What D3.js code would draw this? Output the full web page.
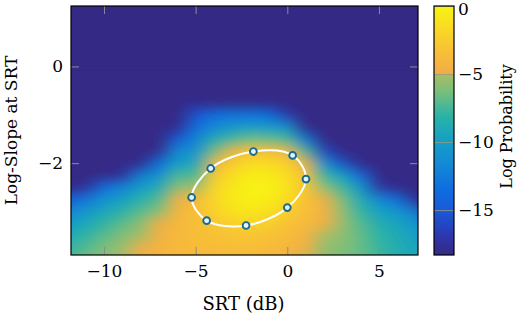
<!DOCTYPE html>
<html>
<head>
<meta charset="utf-8">
<title>Log Probability</title>
<style>
  body { margin: 0; background: #fff; }
  svg text { font-family: "DejaVu Serif", serif; fill: #000; }
</style>
</head>
<body>
<svg id="chart" width="520" height="316"></svg>
<script src="https://cdnjs.cloudflare.com/ajax/libs/d3/7.8.5/d3.min.js"></script>
<script>
// grid columns (SRT, dB) and rows (log-slope), rows listed top to bottom
const srt = [-12, -11, -10, -9, -8, -7, -6, -5, -4, -3, -2, -1, 0, 1, 2, 3, 4, 5, 6, 7, 8];
const slope = [-0.25, -0.5, -0.75, -1.0, -1.25, -1.5, -1.75, -2.0, -2.25, -2.5, -2.75, -3.0, -3.25, -3.5, -3.75, -4.0];
const F = -19; // below the colour floor
const logProb = [
  [F, F, F, F, F, F, F, F, F, F, F, F, F, F, F, F, F, F, F, F, F],
  [F, F, F, F, F, F, F, F, F, F, F, F, F, F, F, F, F, F, F, F, F],
  [F, F, F, F, F, F, F, -18, F, F, F, F, F, F, F, F, F, F, F, F, F],
  [F, F, F, F, F, F, F, -15.5, -13.5, -13, -13, -13.5, -17, F, F, F, F, F, F, F, F],
  [F, F, F, F, F, F, -18, -13.5, -11.5, -10.5, -10, -10.2, -11, F, F, F, F, F, F, F, F],
  [F, F, F, F, F, F, -15, -12, -9, -7.5, -6.5, -6.8, -7.5, -13, F, F, F, F, F, F, F],
  [F, F, F, F, F, -18, -11.5, -10.8, -6.5, -4.6, -3.3, -3.6, -4.4, -7.5, -16, F, F, F, F, F, F],
  [F, F, F, F, -18, -13.5, -10, -9.3, -4.4, -2.6, -1.4, -1.5, -2.3, -4.9, -11, -15.5, F, F, F, F, F],
  [F, F, F, -17.5, -12.5, -10.8, -7.4, -7.4, -2.9, -1.4, -0.5, -0.6, -1.4, -3.5, -7.8, -9.8, -14, F, F, F, F],
  [F, -17.5, -13.5, -12, -10, -9.0, -5.7, -5.2, -2.0, -0.8, 0, -0.2, -1.1, -3.1, -5.6, -7.6, -10.7, -17, F, F, F],
  [-15, -12.8, -11, -9.8, -8.3, -7.2, -4.7, -3.9, -1.8, -0.7, -0.2, -0.4, -1.5, -3.2, -4.7, -6.3, -9.0, -11.5, -13.5, -18, F],
  [-11.8, -10.6, -9.3, -8.2, -7.0, -5.8, -4.3, -3.4, -2.2, -1.1, -0.8, -1.2, -2.4, -3.5, -4.5, -5.6, -7.9, -9.6, -10.6, -12.5, -18],
  [-10.2, -9.2, -8.0, -6.9, -5.8, -4.9, -4.0, -3.4, -3.0, -2.2, -2.0, -2.4, -3.2, -3.9, -4.7, -5.5, -7.1, -8.6, -9.5, -10.6, -12.5],
  [-9.0, -8.0, -7.0, -6.0, -5.2, -4.5, -3.9, -3.5, -3.3, -3.1, -3.0, -3.2, -3.7, -4.3, -5.1, -5.7, -6.8, -8.0, -9.0, -9.8, -10.7],
  [-8.0, -7.1, -6.2, -5.4, -4.9, -4.3, -3.9, -3.7, -3.6, -3.5, -3.5, -3.7, -4.1, -4.7, -5.5, -6.0, -6.7, -7.8, -8.7, -9.4, -10.1],
  [-7.4, -6.6, -5.8, -5.1, -4.7, -4.2, -4.0, -3.9, -3.8, -3.7, -3.8, -4.0, -4.4, -5.0, -5.9, -6.2, -6.8, -7.6, -8.6, -9.2, -9.8]
];

// samples on the white contour
const markerSrt = [-1.85, 0.29, 1.02, 0.0, -2.25, -4.40, -5.22, -4.18];
const markerSlope = [-1.76, -1.84, -2.33, -2.92, -3.29, -3.19, -2.71, -2.11];

const xTicks = [-10, -5, 0, 5];
const yTicks = [-2, 0];
const cTicks = [0, -5, -10, -15];

// colormap stops
const cStops = [-18.3, -17.5, -16.5, -15, -13.5, -11.8, -10, -8.1, -6.3, -5.05, -4.95, -3.7, -1.9, 0];
const cColors = ["#342a86", "#32309a", "#283eb8", "#1a5ad8", "#0f6de0", "#1486d6", "#149ec8", "#2ab3a6",
                 "#78be7c", "#a8bd66", "#efad48", "#f7bb3a", "#f9d528", "#f8f412"];

const svg = d3.select("#chart");
const margin = { left: 71, top: 6, right: 102, bottom: 61 };
const W = 520, H = 316;
const x0 = margin.left, x1 = W - margin.right, y0 = margin.top, y1 = H - margin.bottom;

const xScale = d3.scaleLinear().domain([-11.8, 7.13]).range([x0, x1]);
const yScale = d3.scaleLinear().domain([-3.9, 1.25]).range([y1, y0]);
const color = d3.scaleLinear().domain(cStops).range(cColors).clamp(true);
const intFmt = d3.format("d");

const defs = svg.append("defs");
defs.append("clipPath").attr("id", "plotClip")
  .append("rect").attr("x", x0).attr("y", y0).attr("width", x1 - x0).attr("height", y1 - y0);
defs.append("filter").attr("id", "soften")
  .attr("filterUnits", "userSpaceOnUse")
  .attr("x", 0).attr("y", 0).attr("width", W).attr("height", H)
  .append("feGaussianBlur").attr("stdDeviation", "6.5 4.5").attr("edgeMode", "duplicate");

const plot = svg.append("g").attr("clip-path", "url(#plotClip)");
// plot background = lowest colour
plot.append("rect")
  .attr("x", x0).attr("y", y0).attr("width", x1 - x0).attr("height", y1 - y0)
  .attr("fill", color(-18.3));

// heatmap: one pixel per grid cell, smoothed when scaled up
const small = document.createElement("canvas");
small.width = srt.length; small.height = slope.length;
const sctx = small.getContext("2d");
const imgData = sctx.createImageData(srt.length, slope.length);
logProb.forEach((row, j) => {
  row.forEach((v, i) => {
    const c = d3.rgb(color(v));
    const k = (j * srt.length + i) * 4;
    imgData.data[k] = c.r; imgData.data[k + 1] = c.g; imgData.data[k + 2] = c.b; imgData.data[k + 3] = 255;
  });
});
sctx.putImageData(imgData, 0, 0);

const dx = srt[1] - srt[0], dy = slope[0] - slope[1];
const ix0 = xScale(srt[0] - dx / 2), ix1 = xScale(srt[srt.length - 1] + dx / 2);
const iy0 = yScale(slope[0] + dy / 2), iy1 = yScale(slope[slope.length - 1] - dy / 2);
const big = document.createElement("canvas");
big.width = Math.round(ix1 - ix0); big.height = Math.round(iy1 - iy0);
const bctx = big.getContext("2d");
bctx.imageSmoothingEnabled = true;
bctx.imageSmoothingQuality = "medium";
bctx.drawImage(small, 0, 0, big.width, big.height);
plot.append("g").attr("filter", "url(#soften)")
  .append("image")
  .attr("x", ix0).attr("y", iy0)
  .attr("width", ix1 - ix0).attr("height", iy1 - iy0)
  .attr("preserveAspectRatio", "none")
  .attr("href", big.toDataURL());

// contour through the samples
const pts = markerSrt.map((s, i) => [s, markerSlope[i]]);
plot.append("path")
  .datum(pts)
  .attr("d", d3.line().x(d => xScale(d[0])).y(d => yScale(d[1])).curve(d3.curveCatmullRomClosed.alpha(0.5)))
  .attr("fill", "none").attr("stroke", "#fff").attr("stroke-width", 2);
plot.selectAll("circle.m")
  .data(pts).enter().append("circle")
  .attr("class", "m")
  .attr("cx", d => xScale(d[0])).attr("cy", d => yScale(d[1]))
  .attr("r", 3.4)
  .attr("fill", "#e4f5fb").attr("stroke", "#1b6a8e").attr("stroke-width", 1.9);

// axes with inward ticks
const tickColor = "#8c8c8c";
function styleAxis(g, fontSize) {
  g.select(".domain").remove();
  g.selectAll(".tick line").attr("stroke", tickColor).attr("stroke-width", 1);
  g.selectAll(".tick text").attr("font-family", "DejaVu Serif").attr("font-size", fontSize).attr("fill", "#000");
}
svg.append("g").attr("transform", `translate(0,${y1})`)
  .call(d3.axisBottom(xScale).tickValues(xTicks).tickSize(-8).tickPadding(10).tickFormat(intFmt))
  .call(g => styleAxis(g, 17));
svg.append("g").attr("transform", `translate(0,${y0})`)
  .call(d3.axisTop(xScale).tickValues(xTicks).tickSize(-8).tickFormat(""))
  .call(g => styleAxis(g, 17));
svg.append("g").attr("transform", `translate(${x0},0)`)
  .call(d3.axisLeft(yScale).tickValues(yTicks).tickSize(-8).tickPadding(8).tickFormat(intFmt))
  .call(g => styleAxis(g, 17));
svg.append("g").attr("transform", `translate(${x1},0)`)
  .call(d3.axisRight(yScale).tickValues(yTicks).tickSize(-8).tickFormat(""))
  .call(g => styleAxis(g, 17));

svg.append("rect")
  .attr("x", x0).attr("y", y0).attr("width", x1 - x0).attr("height", y1 - y0)
  .attr("fill", "none").attr("stroke", "#000").attr("stroke-width", 1.2);

// colour bar
const cbX = 434, cbW = 20;
const cScale = d3.scaleLinear().domain([-18.3, 0]).range([y1, y0]);
const grad = defs.append("linearGradient")
  .attr("id", "cbGrad").attr("x1", 0).attr("y1", 1).attr("x2", 0).attr("y2", 0);
grad.selectAll("stop").data(cStops).enter().append("stop")
  .attr("offset", d => (d - cStops[0]) / (0 - cStops[0]))
  .attr("stop-color", d => color(d));
svg.append("rect")
  .attr("x", cbX).attr("y", cScale(0)).attr("width", cbW).attr("height", cScale(-18.3) - cScale(0))
  .attr("fill", "url(#cbGrad)");
svg.append("g").attr("transform", `translate(${cbX + cbW},0)`)
  .call(d3.axisRight(cScale).tickValues(cTicks).tickSize(-cbW).tickPadding(4).tickFormat(intFmt))
  .call(g => styleAxis(g, 17))
  .call(g => g.selectAll(".tick line").attr("stroke", "#9a9a7a").attr("stroke-opacity", 0.8))
  .call(g => g.selectAll(".tick text").filter(d => d === 0).attr("dy", "0.5em"));
svg.append("rect")
  .attr("x", cbX).attr("y", cScale(0)).attr("width", cbW).attr("height", cScale(-18.3) - cScale(0))
  .attr("fill", "none").attr("stroke", "#000").attr("stroke-width", 1.2);

// labels
svg.append("text")
  .attr("x", (x0 + x1) / 2 - 1).attr("y", 310)
  .attr("text-anchor", "middle").attr("font-size", 18)
  .text("SRT (dB)");
svg.append("text")
  .attr("transform", `translate(17,${(y0 + y1) / 2}) rotate(-90)`)
  .attr("text-anchor", "middle").attr("font-size", 17)
  .text("Log-Slope at SRT");
svg.append("text")
  .attr("transform", `translate(512,${(y0 + y1) / 2 - 4}) rotate(-90)`)
  .attr("text-anchor", "middle").attr("font-size", 16)
  .text("Log Probability");
</script>
</body>
</html>
